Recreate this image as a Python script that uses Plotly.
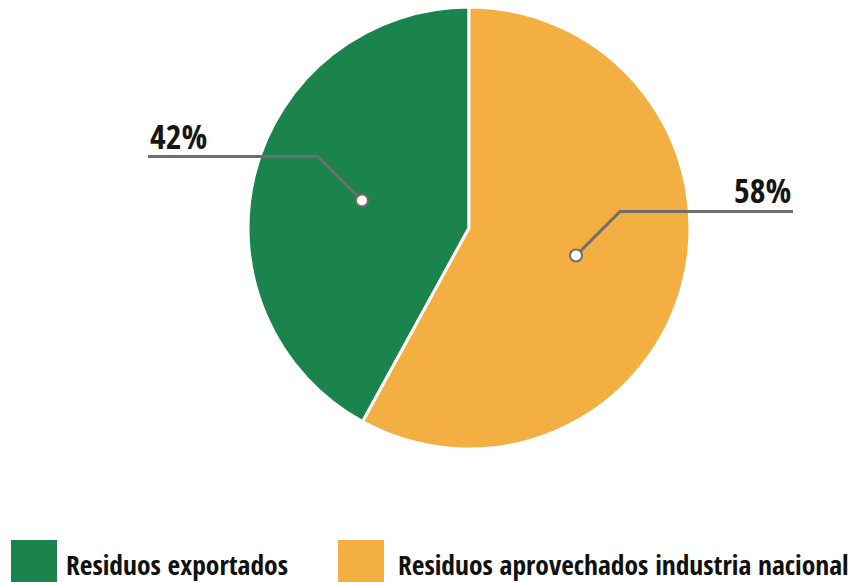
import math
import plotly.graph_objects as go

# Data
labels = ["Residuos exportados", "Residuos aprovechados industria nacional"]
values = [42, 58]
colors = ["#1b844c", "#f3af42"]
label_ends = [148, 793]          # x where each leader line ends (px)
legend_x = [11, 338]             # legend swatch left edges (px)
legend_text_x = [64, 396]        # legend text left edges (px)

W, H = 856, 582
CX, CY, R = 469, 228, 221
FONT = "Open Sans Condensed, Roboto Condensed, sans-serif"
LINE = "#6e6e6e"


def px(x):
    return x / W


def py(y):
    return 1 - y / H


total = sum(values)
# first slice ends at 12 o'clock, the rest continue clockwise from there
start_rot = -360 * values[0] / total

fig = go.Figure(go.Pie(
    labels=labels,
    values=values,
    sort=False,
    direction="clockwise",
    rotation=start_rot,
    marker=dict(colors=colors, line=dict(color="white", width=3)),
    textinfo="none",
    hoverinfo="label+percent",
    showlegend=False,
    domain=dict(x=[px(CX - R), px(CX + R)], y=[py(CY + R), py(CY - R)]),
))

shapes = []
annotations = []
cum = 0
for val, end_x in zip(values, label_ends):
    mid = (cum + val / 2) / total
    cum += val
    theta = math.radians(90 + 360 * mid)
    dx, dy = CX + 0.5 * R * math.cos(theta), CY - 0.5 * R * math.sin(theta)
    side = 1 if math.cos(theta) > 0 else -1
    ex, ey = dx + side * 44, dy - 44
    path = f"M {px(dx)} {py(dy)} L {px(ex)} {py(ey)} L {px(end_x)} {py(ey)}"
    shapes.append(dict(type="path", xref="paper", yref="paper", path=path,
                       line=dict(color=LINE, width=3), layer="above"))
    r = 6
    shapes.append(dict(type="circle", xref="paper", yref="paper",
                       x0=px(dx - r), x1=px(dx + r), y0=py(dy + r), y1=py(dy - r),
                       fillcolor="white", line=dict(color=LINE, width=2), layer="above"))
    pct = round(100 * val / total)
    annotations.append(dict(
        x=px(end_x), y=py(ey + 4), xref="paper", yref="paper",
        text=f"<b>{pct}%</b>", showarrow=False,
        xanchor="left" if side < 0 else "right", yanchor="bottom",
        font=dict(family=FONT, size=34, color="#151515"),
    ))

# Legend drawn as swatches + text
for name, col, lx, tx in zip(labels, colors, legend_x, legend_text_x):
    shapes.append(dict(type="rect", xref="paper", yref="paper",
                       x0=px(lx), x1=px(lx + 46), y0=py(588), y1=py(540),
                       fillcolor=col, line=dict(width=0)))
    annotations.append(dict(
        x=px(tx), y=py(564), xref="paper", yref="paper",
        text=f"<b>{name}</b>", showarrow=False, xanchor="left", yanchor="middle",
        font=dict(family=FONT, size=27.5, color="#111111"),
    ))

fig.update_layout(
    width=W, height=H,
    margin=dict(l=0, r=0, t=0, b=0),
    paper_bgcolor="white", plot_bgcolor="white",
    shapes=shapes, annotations=annotations,
)

fig.write_html("out.html")
